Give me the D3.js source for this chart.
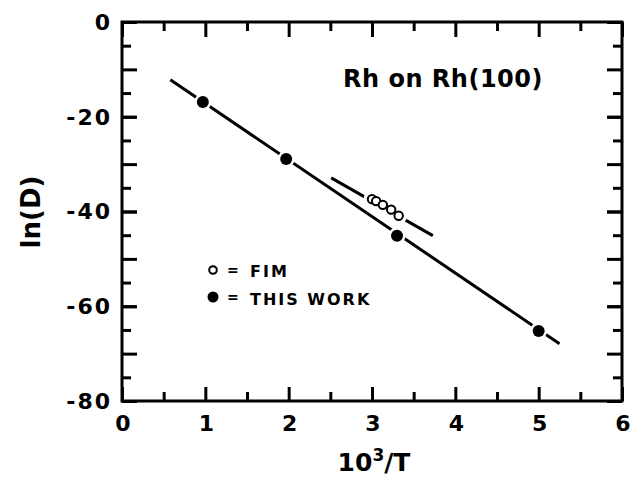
<!DOCTYPE html>
<html>
<head>
<meta charset="utf-8">
<script src="https://cdn.jsdelivr.net/npm/d3@7"></script>
<style>
  body { margin: 0; background: #fff; }
  svg { display: block; }
  text { font-family: "DejaVu Sans", sans-serif; font-weight: bold; fill: #000; }
  .tick line { stroke: #000; stroke-width: 3; }
  .domain { display: none; }
</style>
</head>
<body>
<div class="container"></div>
<script>
// data
const xMajor = [0, 1, 2, 3, 4, 5, 6];
const xMinor = [0.5, 1.5, 2.5, 3.5, 4.5, 5.5];
const yLabels = [0, -20, -40, -60, -80];
const yMajor = [-10, -20, -30, -40, -50, -60, -70];
const yMinor = [-5, -15, -25, -35, -45, -55, -65, -75];

const fimX = [3.00, 3.05, 3.13, 3.23, 3.32];
const fimY = [-37.4, -37.8, -38.6, -39.6, -40.9];
const workX = [0.97, 1.97, 3.30, 5.00];
const workY = [-16.9, -28.9, -45.1, -65.2];

const workFitX = [0.58, 5.25];
const workFitY = [-12.2, -67.9];
const fimFitX = [2.51, 3.73];
const fimFitY = [-32.9, -45.1];

const margin = {top: 22, right: 8, bottom: 77, left: 122};
const width = 630 - margin.left - margin.right;
const height = 478 - margin.top - margin.bottom;

const svg = d3.select(".container")
              .append("svg")
                .attr("width", 630)
                .attr("height", 478);

const g = svg.append("g")
             .attr("transform", "translate(" + margin.left + "," + margin.top + ")");

const x = d3.scaleLinear().domain([0, 6]).range([0, width]);
const y = d3.scaleLinear().domain([-80, 0]).range([height, 0]);

// ticks all point inward, on all four sides
function ticks(axis, vals, len, transform) {
  const a = g.append("g")
             .attr("transform", transform)
             .call(axis.tickValues(vals).tickSize(-len).tickFormat(""));
  return a;
}

ticks(d3.axisBottom(x), xMinor, 9, "translate(0," + height + ")");
ticks(d3.axisBottom(x), xMajor, 14, "translate(0," + height + ")");
ticks(d3.axisTop(x), xMinor, 9, "translate(0,0)");
ticks(d3.axisTop(x), xMajor, 15, "translate(0,0)");
ticks(d3.axisLeft(y), yMinor, 9, "translate(0,0)");
ticks(d3.axisLeft(y), yMajor.concat(yLabels), 15, "translate(0,0)");
ticks(d3.axisRight(y), yMinor, 9, "translate(" + width + ",0)");
ticks(d3.axisRight(y), yMajor.concat(yLabels), 15, "translate(" + width + ",0)");

// tick labels
g.append("g")
  .selectAll("text")
  .data(yLabels)
  .join("text")
    .attr("x", -10)
    .attr("y", d => y(d))
    .attr("dy", "0.36em")
    .attr("text-anchor", "end")
    .style("font-size", "22px")
    .style("letter-spacing", "2px")
    .text(d => d);

g.append("g")
  .selectAll("text")
  .data(xMajor)
  .join("text")
    .attr("x", d => x(d) + 1)
    .attr("y", height + 30)
    .attr("text-anchor", "middle")
    .style("font-size", "22px")
    .text(d => d);

// frame
g.append("rect")
  .attr("width", width)
  .attr("height", height)
  .attr("fill", "none")
  .attr("stroke", "#000")
  .attr("stroke-width", 3);

// fitted lines
const line = d3.line().x(d => x(d[0])).y(d => y(d[1]));

g.append("path")
  .datum(d3.zip(workFitX, workFitY))
  .attr("d", line)
  .attr("fill", "none")
  .attr("stroke", "#000")
  .attr("stroke-width", 3);

g.append("path")
  .datum(d3.zip(fimFitX, fimFitY))
  .attr("d", line)
  .attr("fill", "none")
  .attr("stroke", "#000")
  .attr("stroke-width", 3);

// white halo breaks the line round each point
const fim = d3.zip(fimX, fimY);
const work = d3.zip(workX, workY);

g.append("g")
  .selectAll("circle")
  .data(fim.concat(work))
  .join("circle")
    .attr("cx", d => x(d[0]))
    .attr("cy", d => y(d[1]))
    .attr("r", 8.5)
    .attr("fill", "#fff");

g.append("g")
  .selectAll("circle")
  .data(fim)
  .join("circle")
    .attr("cx", d => x(d[0]))
    .attr("cy", d => y(d[1]))
    .attr("r", 4.2)
    .attr("fill", "#fff")
    .attr("stroke", "#000")
    .attr("stroke-width", 2);

g.append("g")
  .selectAll("circle")
  .data(work)
  .join("circle")
    .attr("cx", d => x(d[0]))
    .attr("cy", d => y(d[1]))
    .attr("r", 6)
    .attr("fill", "#000");

// title
svg.append("text")
  .attr("x", 343)
  .attr("y", 87)
  .style("font-size", "24px")
  .style("letter-spacing", "0.5px")
  .text("Rh on Rh(100)");

// legend
const legend = svg.append("g");

legend.append("circle")
  .attr("cx", 213).attr("cy", 270).attr("r", 3.8)
  .attr("fill", "#fff").attr("stroke", "#000").attr("stroke-width", 2);
legend.append("circle")
  .attr("cx", 213).attr("cy", 297).attr("r", 5.5)
  .attr("fill", "#000");

legend.selectAll(".eq")
  .data([270, 297])
  .join("text")
    .attr("x", 227)
    .attr("y", d => d + 5)
    .style("font-size", "14px")
    .text("=");

legend.append("text")
  .attr("x", 250).attr("y", 277)
  .style("font-size", "16px")
  .style("letter-spacing", "2px")
  .text("FIM");
legend.append("text")
  .attr("x", 250).attr("y", 305)
  .style("font-size", "16px")
  .style("letter-spacing", "2px")
  .text("THIS WORK");

// axis titles
const xt = svg.append("text")
  .attr("x", 374)
  .attr("y", 471)
  .attr("text-anchor", "middle")
  .style("font-size", "25px");
xt.append("tspan").text("10");
xt.append("tspan").attr("dy", -10).style("font-size", "17px").text("3");
xt.append("tspan").attr("dy", 10).text("/T");

svg.append("text")
  .attr("transform", "translate(40,212) rotate(-90)")
  .attr("text-anchor", "middle")
  .style("font-size", "26px")
  .text("ln(D)");
</script>
</body>
</html>
